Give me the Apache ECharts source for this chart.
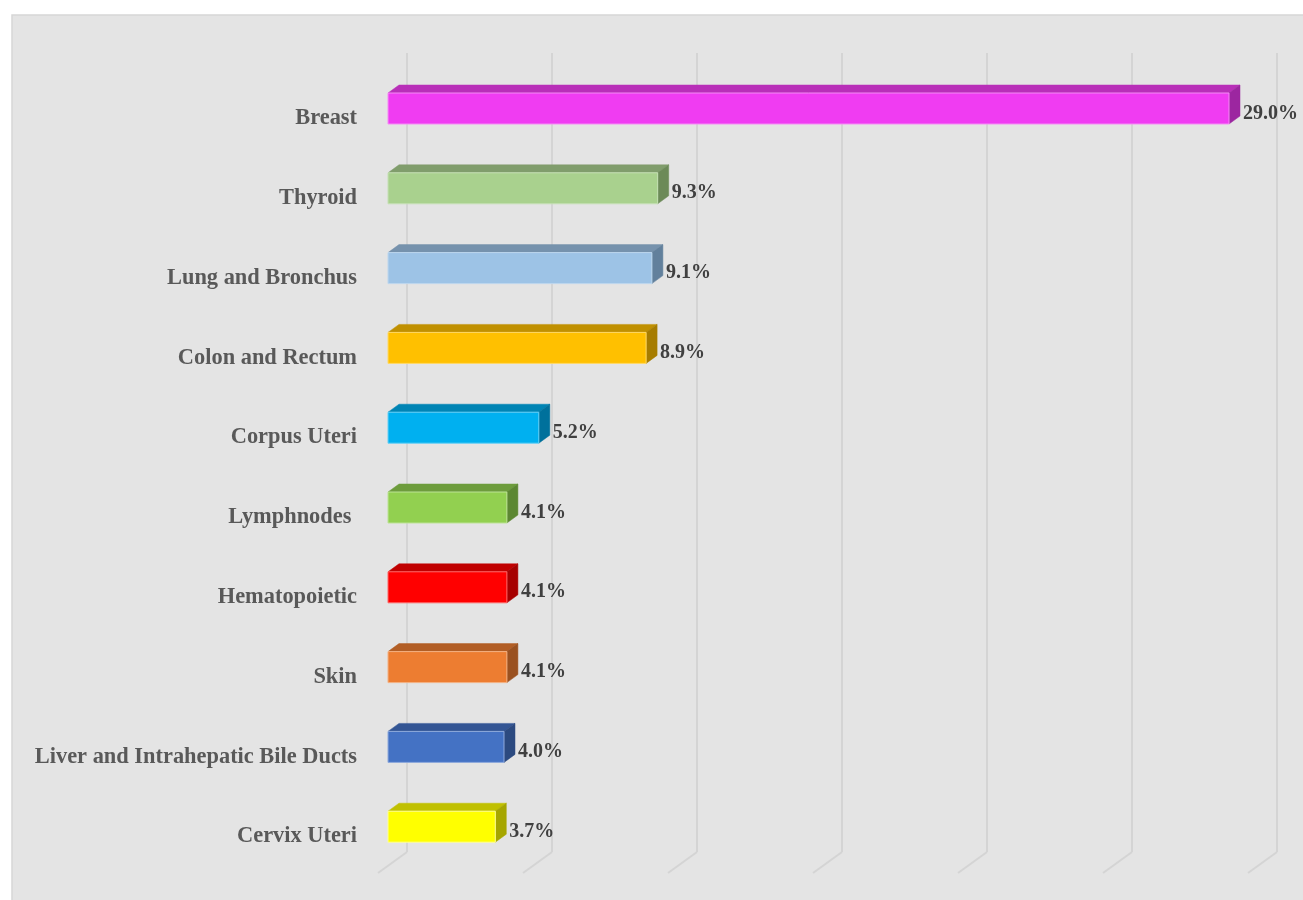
<!DOCTYPE html>
<html>
<head>
<meta charset="utf-8">
<script src="https://cdn.jsdelivr.net/npm/echarts@6/dist/echarts.min.js"></script>
<style>
html,body{margin:0;padding:0;background:#ffffff;}
#chart{width:1303px;height:900px;}
</style>
</head>
<body>
<div id="chart"></div>
<script>
// ---- data ----
const categories = ["Breast","Thyroid","Lung and Bronchus","Colon and Rectum","Corpus Uteri","Lymphnodes ","Hematopoietic","Skin","Liver and Intrahepatic Bile Ducts","Cervix Uteri"];
const values = [29.0, 9.3, 9.1, 8.9, 5.2, 4.1, 4.1, 4.1, 4.0, 3.7];
const gridTicks = [0, 5, 10, 15, 20, 25, 30];

// ---- styles ----
const frontColors = ["#f03cf2","#a9d18e","#9dc3e6","#ffc000","#00b0f0","#92d050","#ff0000","#ed7d31","#4472c4","#ffff00"];
const topColors   = ["#b82fb8","#809d6c","#7692ad","#c09000","#0084b4","#6d9c3c","#c00000","#b25e25","#335594","#c0c000"];
const sideColors  = ["#9c26a0","#6c8a58","#62809c","#a67c00","#00719c","#5c8732","#a60000","#9a5120","#2c4a80","#a6a600"];
const edgeColors  = ["#f58cf5","#c5e0b4","#bdd7ee","#ffd966","#66d0f6","#bde396","#ff6666","#f4b183","#8faadc","#ffff99"];

const DX = 11, DY = 8, H = 31;

const chart = echarts.init(document.getElementById('chart'), null, {renderer: 'canvas'});

const option = {
  backgroundColor: '#ffffff',
  animation: false,
  graphic: [{
    type: 'rect', z: -10, silent: true,
    shape: {x: 12, y: 15, width: 1300, height: 900},
    style: {fill: '#e4e4e4', stroke: '#d6d6d6', lineWidth: 1.5}
  }],
  grid: [
    {left: 407, right: 26, top: 53, bottom: 48, containLabel: false},
    {left: 388, right: 45, top: 68.6, bottom: 33.4, containLabel: false}
  ],
  xAxis: [
    {gridIndex: 0, type: 'value', min: 0, max: 30, interval: 5,
     axisLabel: {show: false}, axisLine: {show: false}, axisTick: {show: false},
     splitLine: {show: true, lineStyle: {color: '#d4d4d4', width: 2}}},
    {gridIndex: 1, type: 'value', min: 0, max: 30, interval: 5,
     axisLabel: {show: false}, axisLine: {show: false}, axisTick: {show: false},
     splitLine: {show: false}}
  ],
  yAxis: [
    {gridIndex: 0, type: 'value', min: 0, max: 1, show: false},
    {gridIndex: 1, type: 'category', data: categories, inverse: true,
     axisLine: {show: false}, axisTick: {show: false}, splitLine: {show: false},
     axisLabel: {
       margin: 31, color: '#595959', fontSize: 22.4, fontWeight: 'bold',
       fontFamily: '"Liberation Serif", "DejaVu Serif", serif',
       verticalAlign: 'top', lineHeight: 20
     }}
  ],
  series: [
    {
      type: 'custom', xAxisIndex: 0, yAxisIndex: 0, silent: true, z: 1,
      data: gridTicks,
      renderItem: function (params, api) {
        const p = api.coord([api.value(0), 0]);
        return {
          type: 'line',
          shape: {x1: p[0], y1: p[1], x2: p[0] - 29, y2: p[1] + 21},
          style: {stroke: '#d4d4d4', lineWidth: 2}
        };
      }
    },
    {
      type: 'custom', xAxisIndex: 1, yAxisIndex: 1, silent: true, z: 5,
      data: values.map((v, i) => [v, i]),
      renderItem: function (params, api) {
        const i = params.dataIndex;
        const v = api.value(0);
        const p0 = api.coord([0, i]);
        const p1 = api.coord([v, i]);
        const x0 = p0[0], x1 = p1[0], cy = p0[1];
        const yt = cy - H / 2, yb = cy + H / 2;
        return {
          type: 'group',
          children: [
            {type: 'polygon', shape: {points: [[x0, yt], [x0 + DX, yt - DY], [x1 + DX, yt - DY], [x1, yt]]},
             style: {fill: topColors[i], stroke: topColors[i], lineWidth: 0.5}},
            {type: 'polygon', shape: {points: [[x1, yt], [x1 + DX, yt - DY], [x1 + DX, yb - DY], [x1, yb]]},
             style: {fill: sideColors[i], stroke: sideColors[i], lineWidth: 0.5}},
            {type: 'rect', shape: {x: x0, y: yt, width: x1 - x0, height: H},
             style: {fill: frontColors[i], stroke: edgeColors[i], lineWidth: 1}},
            {type: 'text', x: x1 + 14, y: cy + 5,
             style: {text: v.toFixed(1) + '%', fill: '#404040', fontSize: 20, fontWeight: 'bold',
                     fontFamily: '"Liberation Serif", "DejaVu Serif", serif',
                     align: 'left', verticalAlign: 'middle'}}
          ]
        };
      }
    }
  ]
};
chart.setOption(option);
</script>
</body>
</html>
